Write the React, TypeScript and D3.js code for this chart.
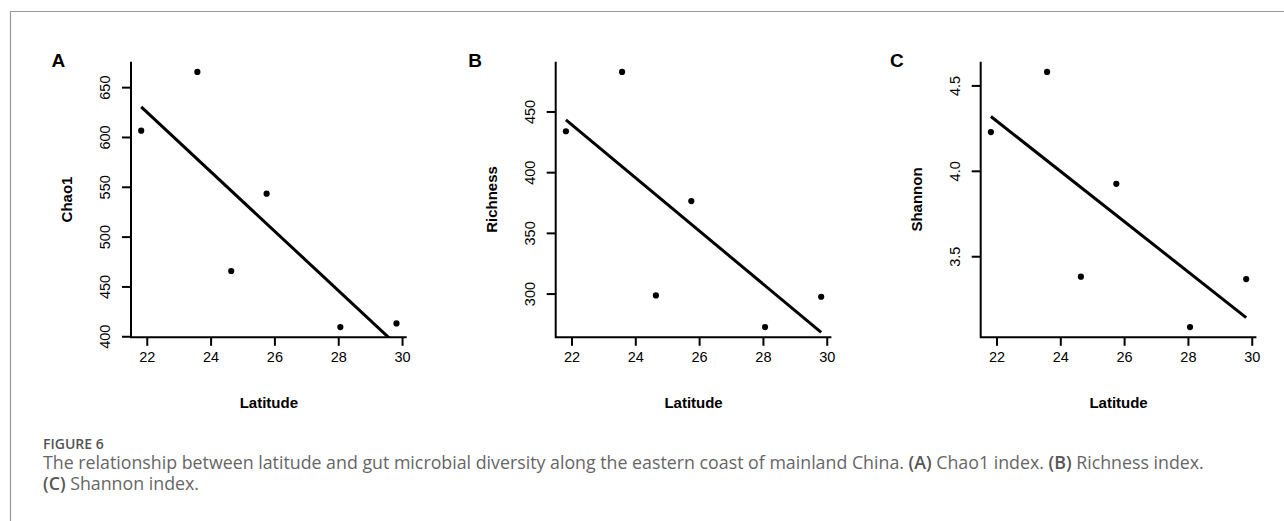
import React from "react";
import * as d3 from "d3";

const latitude = [21.81, 23.57, 24.63, 25.74, 28.05, 29.81];
const chao1 = [606.8, 665.8, 466.0, 543.6, 409.7, 413.4];
const richness = [434.1, 483.0, 298.9, 376.6, 272.8, 297.8];
const shannon = [4.23, 4.582, 3.383, 3.927, 3.088, 3.369];

const xTicks = [22, 24, 26, 28, 30];
const chaoTicks = [400, 450, 500, 550, 600, 650];
const richTicks = [300, 350, 400, 450];
const shanTicks = [3.5, 4.0, 4.5];

const panelLetters = ["A", "B", "C"];
const yTitles = ["Chao1", "Richness", "Shannon"];
const xTitle = "Latitude";

const W = 1284;
const H = 521;
const FONT = "'Liberation Sans', Arial, sans-serif";
const CAP_FONT = "'Open Sans', 'Noto Sans', sans-serif";

type Panel = {
  letter: string;
  ytitle: string;
  ys: number[];
  ticks: number[];
  fmt: (v: number) => string;
  left: number;
  letterX: number;
};

const plotTop = 61.7;
const plotBottom = 337.3;
const plotW = 275.7;

const panels: Panel[] = [
  { letter: panelLetters[0], ytitle: yTitles[0], ys: chao1, ticks: chaoTicks, fmt: (v) => String(v), left: 131, letterX: 51.5 },
  { letter: panelLetters[1], ytitle: yTitles[1], ys: richness, ticks: richTicks, fmt: (v) => String(v), left: 555.7, letterX: 468.3 },
  { letter: panelLetters[2], ytitle: yTitles[2], ys: shannon, ticks: shanTicks, fmt: (v) => v.toFixed(1), left: 980.7, letterX: 890 },
];

function padExtent(vals: number[]): [number, number] {
  const [a, b] = d3.extent(vals) as [number, number];
  const r = b - a;
  return [a - 0.04 * r, b + 0.04 * r];
}

function fit(xs: number[], ys: number[]) {
  const mx = d3.mean(xs) as number;
  const my = d3.mean(ys) as number;
  let sxy = 0;
  let sxx = 0;
  xs.forEach((x, i) => {
    sxy += (x - mx) * (ys[i] - my);
    sxx += (x - mx) * (x - mx);
  });
  const slope = sxy / sxx;
  return (x: number) => my + slope * (x - mx);
}

function PanelView({ p, idx }: { p: Panel; idx: number }) {
  const x = d3.scaleLinear().domain(padExtent(latitude)).range([p.left, p.left + plotW]);
  const y = d3.scaleLinear().domain(padExtent(p.ys)).range([plotBottom, plotTop]);
  const f = fit(latitude, p.ys);
  const xmin = d3.min(latitude) as number;
  const xmax = d3.max(latitude) as number;
  const line = d3
    .line<number>()
    .x((d) => x(d))
    .y((d) => y(f(d)));
  const clipId = `clip${idx}`;
  const x0 = x.range()[0];
  const x1 = x.range()[1];
  return (
    <g>
      <defs>
        <clipPath id={clipId}>
          <rect x={x0} y={plotTop} width={x1 - x0} height={plotBottom - plotTop} />
        </clipPath>
      </defs>
      <text x={p.letterX} y={66.7} fontFamily={FONT} fontWeight="bold" fontSize={19} fill="#000">
        {p.letter}
      </text>
      <path
        d={`M${x0},${plotTop}V${plotBottom}H${x1}`}
        fill="none"
        stroke="#000"
        strokeWidth={2}
      />
      {p.ticks.map((t) => (
        <g key={`y${t}`}>
          <line x1={x0 - 9} x2={x0} y1={y(t)} y2={y(t)} stroke="#000" strokeWidth={2} />
          <text
            transform={`translate(${x0 - 21},${y(t)}) rotate(-90)`}
            textAnchor="middle"
            fontFamily={FONT}
            fontSize={14.5}
            fill="#000"
          >
            {p.fmt(t)}
          </text>
        </g>
      ))}
      {xTicks.map((t) => (
        <g key={`x${t}`}>
          <line x1={x(t)} x2={x(t)} y1={plotBottom} y2={plotBottom + 8.5} stroke="#000" strokeWidth={2} />
          <text x={x(t)} y={362} textAnchor="middle" fontFamily={FONT} fontSize={14.5} fill="#000">
            {t}
          </text>
        </g>
      ))}
      <text
        x={(x0 + x1) / 2}
        y={408.3}
        textAnchor="middle"
        fontFamily={FONT}
        fontWeight="bold"
        fontSize={15}
        fill="#000"
      >
        {xTitle}
      </text>
      <text
        transform={`translate(${x0 - 59},${(plotTop + plotBottom) / 2}) rotate(-90)`}
        textAnchor="middle"
        fontFamily={FONT}
        fontWeight="bold"
        fontSize={15}
        fill="#000"
      >
        {p.ytitle}
      </text>
      <path
        d={line([xmin, xmax]) || ""}
        fill="none"
        stroke="#000"
        strokeWidth={3}
        clipPath={`url(#${clipId})`}
      />
      {latitude.map((lat, i) => (
        <circle key={i} cx={x(lat)} cy={y(p.ys[i])} r={3.1} fill="#000" />
      ))}
    </g>
  );
}

export default function App() {
  const capColor = "#666666";
  const boldColor = "#555555";
  return (
    <svg
      width={W}
      height={H}
      viewBox={`0 0 ${W} ${H}`}
      style={{ position: "absolute", left: 0, top: 0, background: "#fff" }}
    >
      <rect x={0} y={0} width={W} height={H} fill="#fff" />
      <path d={`M10.5,${H}V11.5H${W}`} fill="none" stroke="#9a9a9a" strokeWidth={1.2} />
      {panels.map((p, i) => (
        <PanelView key={p.letter} p={p} idx={i} />
      ))}
      <text x={43} y={448.5} fontFamily={CAP_FONT} fontWeight={600} fontSize={14} fill={boldColor}>
        FIGURE 6
      </text>
      <text x={43} y={468.5} fontFamily={CAP_FONT} fontSize={17.8} fill={capColor}>
        The relationship between latitude and gut microbial diversity along the eastern coast of mainland China.{" "}
        <tspan fontWeight={600} fill={boldColor}>(A)</tspan> Chao1 index.{" "}
        <tspan fontWeight={600} fill={boldColor}>(B)</tspan> Richness index.
      </text>
      <text x={43} y={489.5} fontFamily={CAP_FONT} fontSize={17.8} fill={capColor}>
        <tspan fontWeight={600} fill={boldColor}>(C)</tspan> Shannon index.
      </text>
    </svg>
  );
}
